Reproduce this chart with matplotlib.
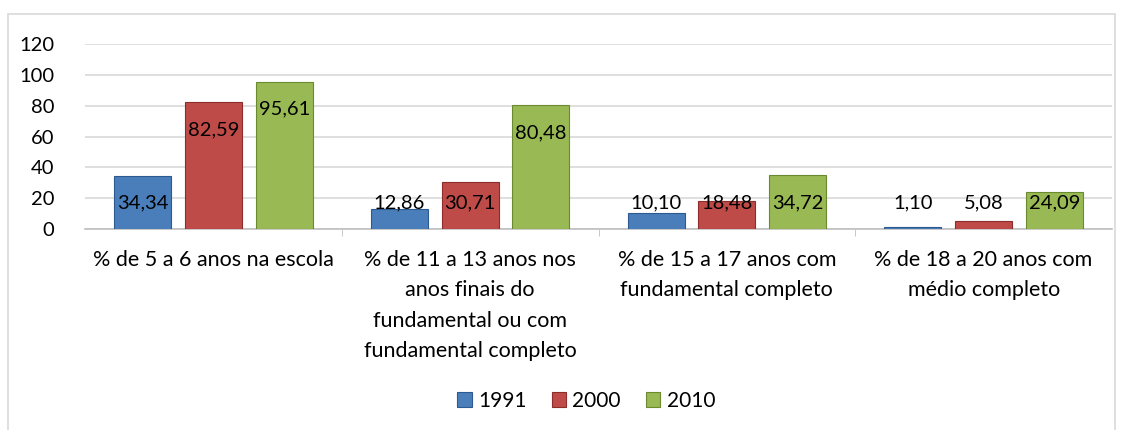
import matplotlib

matplotlib.use("Agg")
import matplotlib.pyplot as plt
import numpy as np
from matplotlib.patches import Rectangle

categories = [
    "% de 5 a 6 anos na escola",
    "% de 11 a 13 anos nos\nanos finais do\nfundamental ou com\nfundamental completo",
    "% de 15 a 17 anos com\nfundamental completo",
    "% de 18 a 20 anos com\nmédio completo",
]
years = ["1991", "2000", "2010"]
v1991 = [34.34, 12.86, 10.10, 1.10]
v2000 = [82.59, 30.71, 18.48, 5.08]
v2010 = [95.61, 80.48, 34.72, 24.09]

colors = ["#4A7EBB", "#BE4B48", "#98B954"]
edges = ["#2C5A8F", "#8C2D2B", "#6B8A2F"]

plt.rcParams["font.family"] = ["Lato", "DejaVu Sans"]

fig = plt.figure(figsize=(11.26, 4.3), dpi=100)
fig.patches.append(Rectangle((8 / 1126, -0.01), 1107 / 1126, 1 - 14 / 430 + 0.01,
                             transform=fig.transFigure, fill=False,
                             edgecolor="#D9D9D9", lw=1.2))
ax = fig.add_axes([85 / 1126, 1 - 229 / 430, 1027 / 1126, 185 / 430])

x = np.arange(len(categories))
w = 0.222
step = 0.276
for i, (vals, yr) in enumerate(zip([v1991, v2000, v2010], years)):
    pos = x + (i - 1) * step
    ax.bar(pos, vals, width=w, color=colors[i], edgecolor=edges[i], lw=0.8,
           label=yr, zorder=3)
    for p, v in zip(pos, vals):
        ly = max(v - 18, 17)
        ax.text(p, ly, f"{v:.2f}".replace(".", ","), ha="center", va="center",
                fontsize=14.5, color="black", zorder=4)

ax.set_ylim(0, 120)
ax.set_xlim(-0.5, len(categories) - 0.5)
ax.set_yticks(range(0, 121, 20))
ax.yaxis.grid(True, color="#D9D9D9", lw=1.2, zorder=0)
for s in ["left", "right", "top"]:
    ax.spines[s].set_visible(False)
ax.spines["bottom"].set_color("#BFBFBF")
ax.spines["bottom"].set_linewidth(1.2)
ax.tick_params(axis="y", length=0, labelsize=14.5, pad=22)
ax.set_xticks(x)
ax.set_xticklabels(categories, fontsize=15.5, linespacing=1.65)
ax.tick_params(axis="x", length=0, pad=15)
# small separators between categories
ax.set_xticks(np.arange(0.5, len(categories) - 0.5), minor=True)
ax.tick_params(axis="x", which="minor", length=5, color="#BFBFBF")

ax.legend(loc="center", bbox_to_anchor=(0.488, -0.93), ncol=3, frameon=False,
          fontsize=15, handlelength=0.7, handleheight=0.7, handletextpad=0.3,
          columnspacing=1.2)

fig.savefig("out.png", dpi=100)
